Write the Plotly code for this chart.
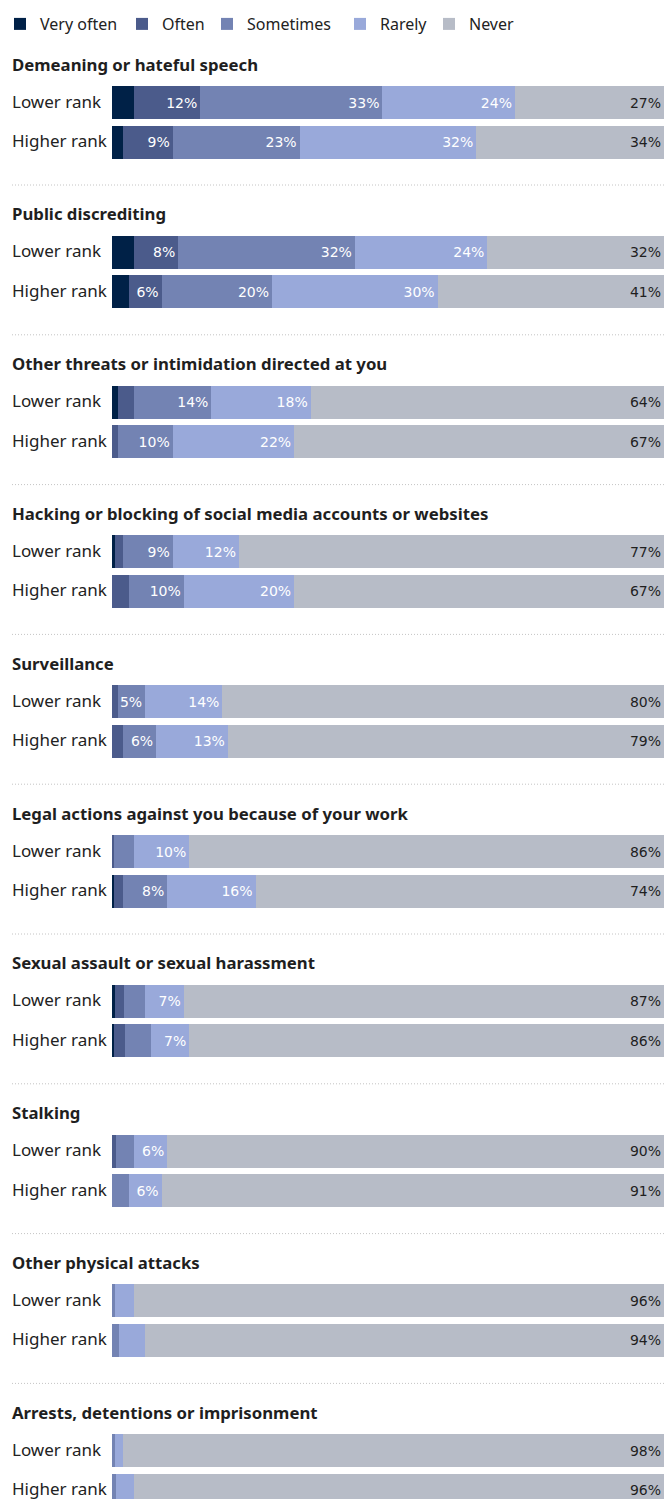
import plotly.graph_objects as go
from plotly.subplots import make_subplots

# ---- data -------------------------------------------------------------
levels = ["Very often", "Often", "Sometimes", "Rarely", "Never"]
colors = ["#002147", "#4b5b8b", "#7383b3", "#99a9da", "#b7bcc7"]
label_colors = ["#ffffff", "#ffffff", "#ffffff", "#ffffff", "#1f1f1f"]

topics = [
    "Demeaning or hateful speech",
    "Public discrediting",
    "Other threats or intimidation directed at you",
    "Hacking or blocking of social media accounts or websites",
    "Surveillance",
    "Legal actions against you because of your work",
    "Sexual assault or sexual harassment",
    "Stalking",
    "Other physical attacks",
    "Arrests, detentions or imprisonment",
]
ranks = ["Lower rank", "Higher rank"]

# share of respondents (%) per topic: [lower rank, higher rank]
very_often = [[4, 2], [4, 3], [1, 0], [0.5, 0], [0, 0], [0, 0.4], [0.5, 0.4], [0, 0], [0, 0], [0, 0]]
often = [[12, 9], [8, 6], [3, 1], [1.5, 3], [1, 2], [0.4, 1.6], [1.7, 2], [0.7, 0], [0, 0], [0, 0]]
sometimes = [[33, 23], [32, 20], [14, 10], [9, 10], [5, 6], [3.6, 8], [3.8, 4.6], [3.3, 3], [0.5, 1.3], [0.5, 0.7]]
rarely = [[24, 32], [24, 30], [18, 22], [12, 20], [14, 13], [10, 16], [7, 7], [6, 6], [3.5, 4.7], [1.5, 3.3]]
never = [[27, 34], [32, 41], [64, 67], [77, 67], [80, 79], [86, 74], [87, 86], [90, 91], [96, 94], [98, 96]]

series = [very_often, often, sometimes, rarely, never]

# ---- layout constants (pixels) ---------------------------------------
W, H = 664, 1499
LEFT = 112            # start of the bar area
TOP = 40              # band reserved for the legend
PLOT_W = W - LEFT
PLOT_H = H - TOP
PITCH = 149.8         # vertical distance between topic blocks
TITLE_Y0 = 64         # centre of first topic heading
BAR_Y0 = 102.5        # centre of first "Lower rank" bar
ROW = 39.5            # distance between the two bars of a topic
BAR_H = 33
SEP_Y0 = 185          # first dotted separator
TEXT_X = 10           # left edge of headings and row labels
FONT = "Noto Sans"
LABEL_FONT = "DejaVu Sans"

# width reserved for each legend entry's text
legend_widths = [77, 40, 88, 44, 50]

n = len(topics)
fig = make_subplots(rows=n, cols=1, shared_xaxes=False, vertical_spacing=0)


def px_to_paper_x(px):
    return (px - LEFT) / PLOT_W


def px_to_paper_y(py):
    return 1 - (py - TOP) / PLOT_H


for i in range(n):
    for k, lvl in enumerate(levels):
        vals = series[k][i]
        txt = [f"{v:g}%" if v >= 5 else "" for v in vals]
        fig.add_trace(
            go.Bar(
                orientation="h",
                x=vals,
                y=ranks,
                name=lvl,
                legendgroup=lvl,
                showlegend=(i == 0),
                legendwidth=legend_widths[k],
                marker=dict(color=colors[k], line=dict(width=0)),
                text=txt,
                textposition="inside",
                insidetextanchor="end",
                textangle=0,
                textfont=dict(family=LABEL_FONT, size=14, color=label_colors[k]),
                hovertemplate=f"{lvl}: %{{x}}%<extra></extra>",
            ),
            row=i + 1,
            col=1,
        )

    # vertical placement of this topic's axis
    lower_c = BAR_Y0 + PITCH * i
    top_px = lower_c - ROW / 2
    bot_px = min(lower_c + ROW * 1.5, H)
    bot_val = (bot_px - lower_c) / ROW
    suffix = "" if i == 0 else str(i + 1)
    fig.layout[f"yaxis{suffix}"].update(
        domain=[px_to_paper_y(bot_px), px_to_paper_y(top_px)],
        type="category",
        categoryarray=ranks,
        range=[bot_val, -0.5],
        showticklabels=False,
        showgrid=False,
        zeroline=False,
        fixedrange=True,
    )
    fig.layout[f"xaxis{suffix}"].update(
        domain=[0, 1],
        range=[0, 100],
        showticklabels=False,
        showgrid=False,
        zeroline=False,
        fixedrange=True,
    )

    # topic heading
    fig.add_annotation(
        text=f"<b>{topics[i]}</b>",
        xref="paper", yref="paper",
        x=px_to_paper_x(TEXT_X), y=px_to_paper_y(TITLE_Y0 + PITCH * i),
        xanchor="left", yanchor="middle",
        showarrow=False,
        font=dict(family=FONT, size=16.75, color="#1f1f1f"),
    )
    # row labels
    for r in ranks:
        fig.add_annotation(
            text=r,
            xref="paper", yref=f"y{suffix}",
            x=px_to_paper_x(TEXT_X), y=r,
            xanchor="left", yanchor="middle",
            yshift=1.5,
            showarrow=False,
            font=dict(family=FONT, size=17, color="#222222"),
        )
    # dotted separator below the block
    if i < n - 1:
        sy = px_to_paper_y(SEP_Y0 + PITCH * i)
        fig.add_shape(
            type="line", xref="paper", yref="paper",
            x0=px_to_paper_x(12), x1=1, y0=sy, y1=sy,
            line=dict(color="#c4c4c4", width=1, dash="1px,2px"),
        )

fig.update_layout(
    width=W,
    height=H,
    margin=dict(l=LEFT, r=0, t=TOP, b=0),
    barmode="stack",
    bargap=1 - BAR_H / ROW,
    plot_bgcolor="white",
    paper_bgcolor="white",
    font=dict(family=FONT, size=16, color="#222222"),
    uniformtext=dict(minsize=14, mode="show"),
    showlegend=True,
    legend=dict(
        orientation="h",
        x=px_to_paper_x(0), y=px_to_paper_y(24),
        xanchor="left", yanchor="middle",
        font=dict(family=FONT, size=16, color="#222222"),
        itemwidth=30,
        tracegroupgap=0,
        traceorder="normal",
    ),
)

fig.write_html("out.html")
